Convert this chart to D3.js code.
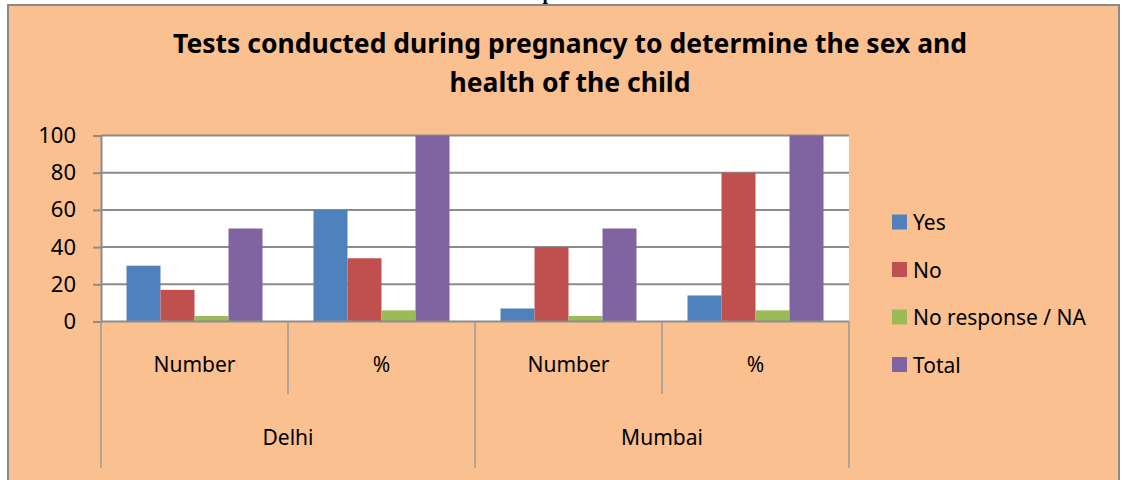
<!DOCTYPE html>
<html>
<head>
<meta charset="utf-8">
<script src="https://cdn.jsdelivr.net/npm/d3@7"></script>
<style>
  html, body { margin: 0; padding: 0; background: #fff; }
  svg text { font-family: "Noto Sans", "Open Sans", sans-serif; fill: #000; }
</style>
</head>
<body>
<div id="chart"></div>
<script>
// data
const cities = ['Delhi', 'Mumbai'];
const measures = ['Number', '%'];
const seriesNames = ['Yes', 'No', 'No response / NA', 'Total'];
const seriesColors = ['#4f81bd', '#c0504d', '#9bbb59', '#8064a2'];
const yesValues = [30, 60, 7, 14];
const noValues = [17, 34, 40, 80];
const naValues = [3, 6, 3, 6];
const totalValues = [50, 100, 50, 100];
const yTicks = [0, 20, 40, 60, 80, 100];
const titleLines = ['Tests conducted during pregnancy to determine the sex and', 'health of the child'];

const W = 1124, H = 480;
const plot = { left: 101, right: 849, top: 135.5, bottom: 321.5 };

const svg = d3.select('#chart').append('svg')
  .attr('width', W).attr('height', H);

// outer chart box
svg.append('rect')
  .attr('x', 8).attr('y', 5).attr('width', 1111).attr('height', 490)
  .attr('fill', '#fac090').attr('stroke', '#8a8a8a').attr('stroke-width', 2);

// stray glyph from the page heading above the chart (cut off in the original too)
svg.append('text')
  .attr('x', 548).attr('y', -1)
  .style('font-family', '"Liberation Serif", serif')
  .style('font-weight', 'bold').style('font-size', '20px')
  .attr('text-anchor', 'middle').text('p');

// title
svg.selectAll('.title').data(titleLines).enter().append('text')
  .attr('class', 'title')
  .attr('x', 570).attr('y', (d, i) => 53 + i * 39)
  .attr('text-anchor', 'middle')
  .style('font-weight', 'bold').style('font-size', '26.5px')
  .text(d => d);

// categories: city x measure
const cats = [];
cities.forEach(c => measures.forEach(m => cats.push(c + '|' + m)));
const rows = cats.map((key, i) => ({
  key,
  values: [yesValues[i], noValues[i], naValues[i], totalValues[i]]
}));

const x0 = d3.scaleBand().domain(cats).range([plot.left, plot.right]);
const x1 = d3.scaleBand().domain(d3.range(seriesNames.length))
  .range([0, x0.bandwidth()]).paddingInner(0).paddingOuter(0.75);
const y = d3.scaleLinear().domain([0, 100]).range([plot.bottom, plot.top]);

// plot area
svg.append('rect')
  .attr('x', plot.left).attr('y', plot.top)
  .attr('width', plot.right - plot.left).attr('height', plot.bottom - plot.top)
  .attr('fill', '#fff');

// gridlines
svg.append('g')
  .selectAll('line').data(yTicks.filter(t => t > 0)).enter().append('line')
  .attr('x1', plot.left).attr('x2', plot.right)
  .attr('y1', d => y(d)).attr('y2', d => y(d))
  .attr('stroke', '#8c8c8c').attr('stroke-width', 2);

// bars
svg.append('g').selectAll('g').data(rows).enter().append('g')
  .attr('transform', d => `translate(${x0(d.key)},0)`)
  .selectAll('rect').data(d => d.values.map((v, i) => ({ v, i }))).enter().append('rect')
  .attr('x', d => x1(d.i))
  .attr('width', x1.bandwidth())
  .attr('y', d => y(d.v))
  .attr('height', d => y(0) - y(d.v))
  .attr('fill', d => seriesColors[d.i]);

// y axis
const yAxis = svg.append('g')
  .attr('transform', `translate(${plot.left},0)`)
  .call(d3.axisLeft(y).tickValues(yTicks).tickSize(8).tickPadding(17));
yAxis.select('.domain').attr('stroke', '#8c8c8c').attr('stroke-width', 2);
yAxis.selectAll('.tick line').attr('stroke', '#8c8c8c').attr('stroke-width', 2);
yAxis.selectAll('.tick text').style('font-size', '22px')
  .style('font-family', '"Noto Sans", sans-serif').attr('fill', '#000');

// x axis baseline
svg.append('line')
  .attr('x1', plot.left).attr('x2', plot.right)
  .attr('y1', plot.bottom).attr('y2', plot.bottom)
  .attr('stroke', '#8c8c8c').attr('stroke-width', 2);

// category separators: inner level and outer level
const inner = cats.map(c => x0(c)).concat([plot.right]);
svg.append('g').selectAll('line').data(inner).enter().append('line')
  .attr('x1', d => d).attr('x2', d => d)
  .attr('y1', plot.bottom).attr('y2', (d, i) => i % 2 === 0 ? 468 : 394)
  .attr('stroke', '#9a9a9a').attr('stroke-width', 1.5);

svg.append('g').selectAll('text').data(cats).enter().append('text')
  .attr('x', d => x0(d) + x0.bandwidth() / 2)
  .attr('y', 372)
  .attr('text-anchor', 'middle').style('font-size', '21px')
  .text(d => d.split('|')[1]);

svg.append('g').selectAll('text').data(cities).enter().append('text')
  .attr('x', c => x0(c + '|' + measures[0]) + x0.bandwidth())
  .attr('y', 445)
  .attr('text-anchor', 'middle').style('font-size', '21px')
  .text(d => d);

// legend
const legend = svg.append('g').selectAll('g').data(seriesNames).enter().append('g')
  .attr('transform', (d, i) => `translate(892,${222 + i * 47.5})`);
legend.append('rect')
  .attr('x', 0).attr('y', -7.5).attr('width', 15).attr('height', 15)
  .attr('fill', (d, i) => seriesColors[i]);
legend.append('text')
  .attr('x', 21).attr('y', 8)
  .style('font-size', '21px')
  .text(d => d);
</script>
</body>
</html>
